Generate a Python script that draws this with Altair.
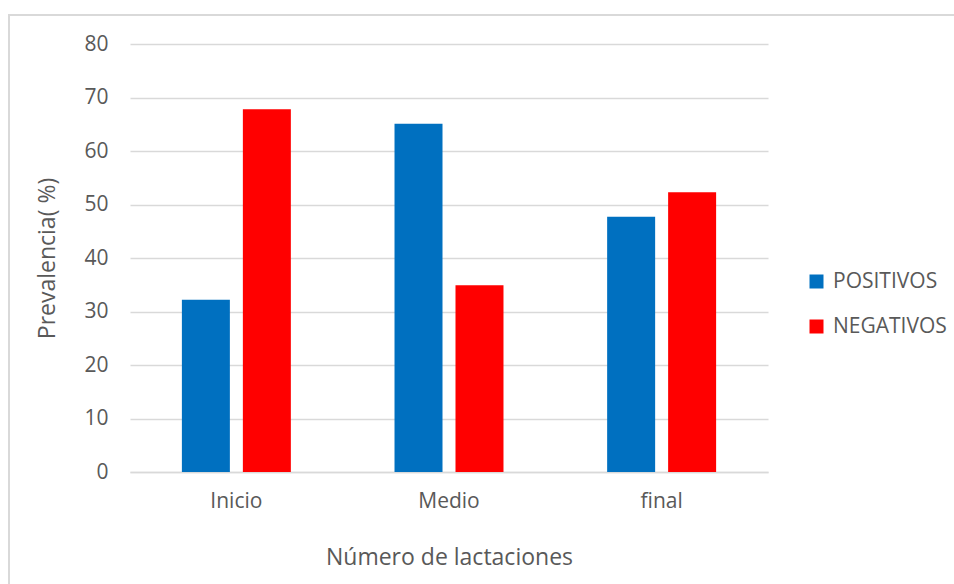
import altair as alt
import pandas as pd

# Prevalence (%) of positive / negative results by lactation stage
etapas = ["Inicio", "Medio", "final"]
positivos = [32.2, 65.1, 47.7]
negativos = [67.8, 34.9, 52.3]
grupos = ["POSITIVOS", "NEGATIVOS"]
colores = ["#0070C0", "#FF0000"]

rows = []
for e, p, n in zip(etapas, positivos, negativos):
    rows.append({"etapa": e, "grupo": "POSITIVOS", "valor": p})
    rows.append({"etapa": e, "grupo": "NEGATIVOS", "valor": n})
df = pd.DataFrame(rows)

FONT = "Open Sans"
TXT = "#595959"
GRID = "#D9D9D9"

bars = alt.Chart(df).mark_bar().encode(
    x=alt.X(
        "etapa:N",
        sort=etapas,
        scale=alt.Scale(paddingInner=0.4875, paddingOuter=0.244),
        axis=alt.Axis(
            title="Número de lactaciones",
            labelAngle=0,
            labelFontSize=21,
            labelColor=TXT,
            labelPadding=18,
            labelFont=FONT,
            ticks=False,
            domain=True,
            domainColor=GRID,
            domainWidth=1.5,
            titleFontSize=23,
            titleFontWeight="normal",
            titleColor=TXT,
            titleFont=FONT,
            titleY=85,
            titleBaseline="middle",
        ),
    ),
    xOffset=alt.XOffset("grupo:N", sort=grupos, scale=alt.Scale(paddingInner=0.213, paddingOuter=0)),
    y=alt.Y(
        "valor:Q",
        scale=alt.Scale(domain=[0, 80], nice=False),
        axis=alt.Axis(
            title="Prevalencia( %)",
            values=list(range(0, 81, 10)),
            labelFontSize=21,
            labelColor=TXT,
            labelFont=FONT,
            labelPadding=22,
            ticks=False,
            domain=False,
            grid=True,
            gridColor=GRID,
            gridWidth=1.5,
            titleFontSize=23,
            titleFontWeight="normal",
            titleColor=TXT,
            titleFont=FONT,
            titleX=-83,
            titleY=214,
            titleAlign="center",
            titleBaseline="middle",
        ),
    ),
    color=alt.Color(
        "grupo:N",
        sort=grupos,
        scale=alt.Scale(domain=grupos, range=colores),
        legend=alt.Legend(
            title=None,
            orient="none",
            legendX=676,
            legendY=227,
            symbolType="square",
            symbolSize=196,
            symbolStrokeWidth=0,
            labelFontSize=21,
            labelColor=TXT,
            labelFont=FONT,
            labelOffset=6,
            rowPadding=23,
        ),
    ),
)

# outer chart frame
frame = alt.Chart(df).mark_rect(fill=None, stroke=GRID, strokeWidth=2).encode(
    x=alt.value(-121), x2=alt.value(834), y=alt.value(-29), y2=alt.value(550)
)

chart = alt.layer(frame, bars).properties(
    width=638,
    height=428,
    autosize=alt.AutoSizeParams(type="none"),
    padding={"left": 130, "top": 44, "right": 186, "bottom": 112},
    background="white",
).configure_view(stroke=None)

chart.save("out.html", embed_options={"renderer": "svg", "actions": False})
